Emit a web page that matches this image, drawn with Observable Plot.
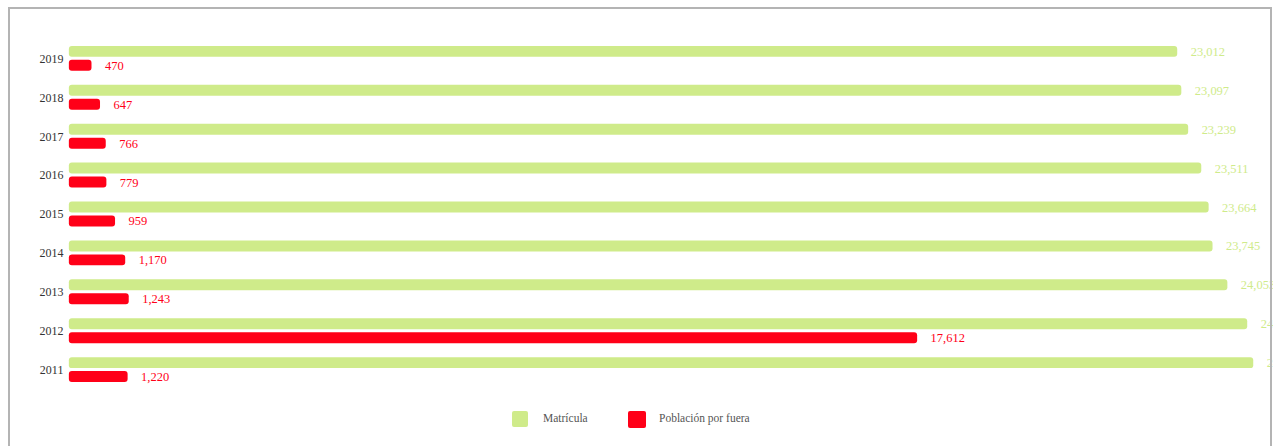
<!DOCTYPE html>
<html><head><meta charset="utf-8">
<script src="https://cdn.jsdelivr.net/npm/d3@7"></script>
<script src="https://cdn.jsdelivr.net/npm/@observablehq/plot@0.6"></script>
<style>
body{margin:0;background:#fff;width:1276px;height:446px;overflow:hidden;position:relative;font-family:"Liberation Serif",serif;}
#frame{position:absolute;left:8px;top:7px;width:1264px;height:460px;border:2px solid #b4b4b4;box-sizing:border-box;pointer-events:none;}
#clip{position:absolute;left:0;top:0;width:1273px;height:410px;overflow:hidden;}
#legend{position:absolute;top:411px;left:0;width:1276px;font-size:11.5px;color:#555;font-family:"Liberation Serif",serif;}
.sw{position:absolute;top:0;width:16px;height:16px;border-radius:2px;}
.lt{position:absolute;top:1px;}
</style></head>
<body>
<div id="clip"></div>
<div id="frame"></div>
<div id="legend">
  <div class="sw" style="left:512px;background:#cfeb8a"></div><div class="lt" style="left:543px">Matrícula</div>
  <div class="sw" style="left:628px;width:18px;height:17px;background:#ff0018"></div><div class="lt" style="left:659px">Población por fuera</div>
</div>
<script>
const years = ["2019","2018","2017","2016","2015","2014","2013","2012","2011"];
const matricula = [23012, 23097, 23239, 23511, 23664, 23745, 24053, 24465, 24590];
const poblacionFuera = [470, 647, 766, 779, 959, 1170, 1243, 17612, 1220];
const seriesNames = ["Matrícula", "Población por fuera"];
const seriesColors = ["#cfeb8a", "#ff0018"];

const data = [];
years.forEach((y, i) => {
  data.push({year: y, series: seriesNames[0], value: matricula[i]});
  data.push({year: y, series: seriesNames[1], value: poblacionFuera[i]});
});
const fmt = d3.format(",");

const chart = Plot.plot({
  width: 1276,
  height: 400,
  marginLeft: 69,
  marginRight: 0,
  marginTop: 38,
  marginBottom: 10,
  style: {fontFamily: "Liberation Serif, serif", fontSize: "12px", background: "transparent", overflow: "visible"},
  x: {domain: [0, 25000], axis: null},
  fy: {domain: years, padding: 0, label: null},
  y: {domain: seriesNames, paddingInner: 0.18, paddingOuter: 0.45, axis: null},
  color: {domain: seriesNames, range: seriesColors},
  marks: [
    Plot.barX(data, {fy: "year", y: "series", x: "value", fill: "series", rx: 3}),
    Plot.text(data, {fy: "year", y: "series", x: "value", text: d => fmt(d.value), dx: 13, textAnchor: "start", fill: "series", fontSize: 12.5, fontFamily: "Liberation Serif, serif", clip: false}),
    Plot.axisFy({anchor: "left", tickSize: 0, tickPadding: 6, fontSize: 12, fill: "#333", label: null})
  ]
});
document.getElementById("clip").appendChild(chart);
</script>
</body></html>
